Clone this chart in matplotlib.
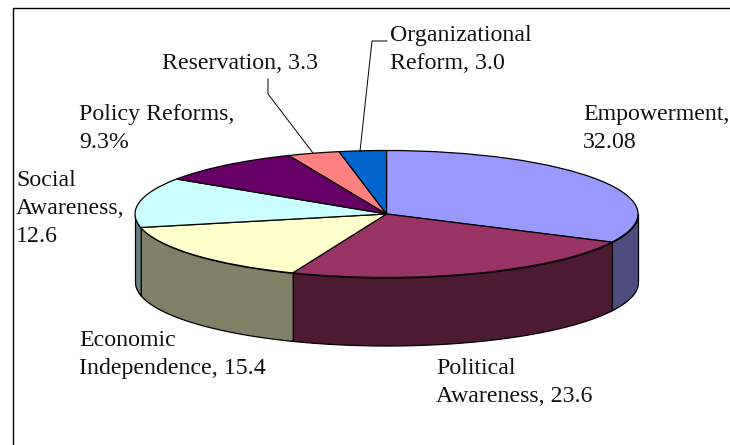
import matplotlib
matplotlib.use('Agg')
import matplotlib.pyplot as plt
import numpy as np

# slices, clockwise from the top
labels = ['Empowerment,\n32.08', 'Political\nAwareness, 23.6', 'Economic\nIndependence, 15.4',
          'Social\nAwareness,\n12.6', 'Policy Reforms,\n9.3%', 'Reservation, 3.3',
          'Organizational\nReform, 3.0']
values = [32.08, 23.6, 15.4, 12.6, 9.3, 3.3, 3.0]
top_colors = ['#9999FF', '#993366', '#FFFFCC', '#CCFFFF', '#660066', '#FF8080', '#0066CC']
side_colors = ['#4D4D80', '#4D1A33', '#808066', '#668080', '#330033', '#804040', '#003366']

W, H = 730, 445
cx, cy, rx, ry = 386.5, 214, 251.5, 63.5
depth = 68 / ry

fig = plt.figure(figsize=(W / 100, H / 100), dpi=100)

# pie axes: one data unit is one radius, squashed to look tilted
ax = fig.add_axes([0, 0, 1, 1])
wedges, _ = ax.pie(values, startangle=90, counterclock=False, colors=top_colors,
                   wedgeprops={'edgecolor': 'black', 'linewidth': 0.9, 'zorder': 3})
ax.set_aspect('auto')
ax.set_xlim(-cx / rx, (W - cx) / rx)
ax.set_ylim(-(H - cy) / ry, cy / ry)

# side wall, only the front part of each slice shows
for w, c in zip(wedges, side_colors):
    t = np.radians(np.linspace(w.theta1, w.theta2, 600))
    t = t[np.sin(t) <= 0]
    if len(t) > 1:
        ax.fill_between(np.cos(t), np.sin(t), np.sin(t) - depth, facecolor=c,
                        edgecolor='black', linewidth=0.9, zorder=2)

# overlay in picture pixels for frame, text and leader lines
ov = fig.add_axes([0, 0, 1, 1])
ov.set_xlim(0, W)
ov.set_ylim(H, 0)
ov.axis('off')
ov.plot([12.5, 12.5, W], [H, 7.5, 7.5], color='black', lw=1.0, zorder=1)
ov.plot([268, 268, 313], [79, 94, 153], color='black', lw=0.7)
ov.plot([387, 372, 360], [41, 41, 151], color='black', lw=0.7)

# baseline of the last line of each label
label_x = [583, 436, 79, 16, 79, 162, 390]
label_y = [148, 402, 374, 242, 148, 69, 69]
for s, x, y in zip(labels, label_x, label_y):
    ov.text(x, y, s, family='Liberation Serif', fontsize=17.2, va='baseline', ha='left',
            linespacing=1.43, color='#111111')

fig.savefig('out.png', dpi=100)
